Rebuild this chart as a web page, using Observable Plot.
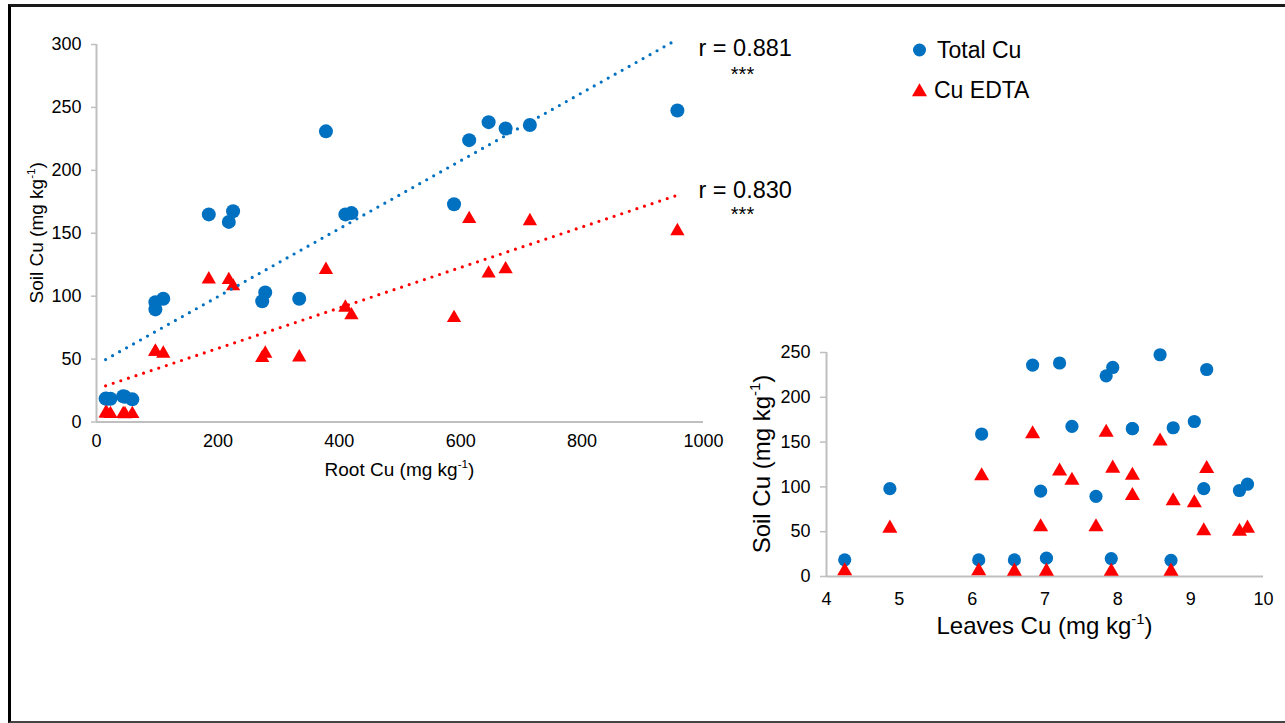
<!DOCTYPE html>
<html>
<head>
<meta charset="utf-8">
<script src="https://cdn.jsdelivr.net/npm/d3@7"></script>
<script src="https://cdn.jsdelivr.net/npm/@observablehq/plot@0.6"></script>
<style>
  html, body { margin: 0; padding: 0; background: #fff; }
  #fig { position: relative; width: 1285px; height: 723px; overflow: hidden;
         font-family: "Liberation Sans", Arial, sans-serif; }
  #frame { position: absolute; left: 8px; top: 4px; width: 1300px; height: 714px;
           border-left: 3px solid #000; border-top: 3px solid #1a1a1a; border-bottom: 2px solid #444; }
  #main, #inset, #legend { position: absolute; }
  #main { left: 0; top: 0; }
  #inset { left: 740px; top: 320px; }
  #legend { left: 900px; top: 30px; }
  #legend .row { display: flex; align-items: center; height: 40px; font-size: 23px; color: #000; }
  #legend svg { display: block; }
</style>
</head>
<body>
<div id="fig">
  <div id="frame"></div>
  <div id="main"></div>
  <div id="inset"></div>
  <div id="legend"></div>
</div>
<script>
// Copper in roots, leaves and soil for 24 sampled plants (mg kg-1)
const rootCu   = [15, 17, 23, 44, 47, 59, 97, 97, 110, 185, 218, 225, 273, 278, 334, 378, 410, 420, 589, 614, 646, 674, 714, 957];
const leavesCu = [4.25, 6.09, 6.58, 7.02, 7.91, 8.73, 6.94, 7.70, 4.87, 8.20, 6.13, 7.37, 9.67, 9.78, 9.18, 9.22, 8.20, 8.76, 9.05, 7.84, 7.20, 7.93, 6.83, 8.58];
const totalCu  = [18.6, 18.5, 18.5, 20.5, 20.0, 18.0, 95.2, 89.5, 98.0, 165.0, 159.0, 167.5, 96.0, 103.0, 98.0, 231.0, 165.0, 166.0, 173.0, 224.0, 238.3, 233.3, 236.0, 247.5];
const edtaCu   = [8.5, 8.5, 8.0, 8.0, 7.8, 8.0, 57.5, 57.5, 56.0, 115.0, 114.5, 109.5, 52.5, 56.0, 53.0, 122.5, 92.5, 86.5, 84.3, 163.0, 119.7, 123.0, 161.3, 153.3];

const seriesNames  = ["Total Cu", "Cu EDTA"];
const seriesColors = ["#0070C0", "#FF0000"];
const rLabels   = ["r = 0.881", "r = 0.830"];
const sigLabels = ["***", "***"];

const rootTicks   = [0, 200, 400, 600, 800, 1000];
const soilTicks   = [0, 50, 100, 150, 200, 250, 300];
const leavesTicks = [4, 5, 6, 7, 8, 9, 10];
const soilTicksInset = [0, 50, 100, 150, 200, 250];

const rootTitle   = ["Root Cu (mg kg", "-1", ")"];
const leavesTitle = ["Leaves Cu (mg kg", "-1", ")"];
const soilTitle   = ["Soil Cu (mg kg", "-1", ")"];

const samples = rootCu.map((r, i) => ({
  root: r, leaves: leavesCu[i], total: totalCu[i], edta: edtaCu[i]
}));

const FONT = '"Liberation Sans", Arial, sans-serif';
const AXIS_GREY = "#bfbfbf";
const [blue, red] = seriesColors;
const plain = d => String(d);

// axis title with a superscript unit exponent
function addTitle(svg, parts, x, y, rotate, size) {
  const t = d3.select(svg).append("text")
    .attr("transform", `translate(${x},${y}) rotate(${rotate})`)
    .attr("text-anchor", "middle")
    .attr("font-family", FONT)
    .attr("font-size", size)
    .attr("fill", "#000");
  t.append("tspan").text(parts[0]);
  t.append("tspan").attr("font-size", size * 0.62).attr("dy", -size * 0.4).text(parts[1]);
  t.append("tspan").attr("dy", size * 0.4).text(parts[2]);
}

// ---- Soil Cu vs Root Cu ----
const main = Plot.plot({
  width: 810, height: 490,
  marginLeft: 96, marginRight: 107, marginTop: 44, marginBottom: 68.5,
  style: { fontFamily: FONT, fontSize: "18px", color: "#000", background: "transparent", overflow: "visible" },
  x: { domain: [0, 1000], label: null },
  y: { domain: [0, 300], label: null },
  marks: [
    Plot.axisY({ ticks: soilTicks, tickFormat: plain, tickSize: 5, tickPadding: 10, stroke: AXIS_GREY, strokeWidth: 1.5, label: null }),
    Plot.axisX({ ticks: rootTicks, tickFormat: plain, tickSize: 0, tickPadding: 12, label: null }),
    Plot.ruleX([0], { stroke: AXIS_GREY, strokeWidth: 2 }),
    Plot.ruleY([0], { stroke: AXIS_GREY, strokeWidth: 2 }),
    Plot.dot(samples, { x: "root", y: "total", r: 7, fill: blue }),
    Plot.dot(samples, { x: "root", y: "edta", symbol: "triangle", r: 5.3, dy: 2, fill: red }),
    Plot.linearRegressionY(samples, { x: "root", y: "total", ci: 0, stroke: blue, strokeWidth: 3.2, strokeDasharray: "0 8", strokeLinecap: "round" }),
    Plot.linearRegressionY(samples, { x: "root", y: "edta", ci: 0, stroke: red, strokeWidth: 3.2, strokeDasharray: "0 8", strokeLinecap: "round" }),
    Plot.text([rLabels[0]], { text: d => d, frameAnchor: "top-right", textAnchor: "start", lineAnchor: "bottom", dx: -5, dy: 11, fontSize: 23.5, fill: "#000" }),
    Plot.text([sigLabels[0]], { text: d => d, frameAnchor: "top-right", textAnchor: "middle", lineAnchor: "bottom", dx: 39, dy: 36, fontSize: 20, fill: "#000" }),
    Plot.text([rLabels[1]], { text: d => d, frameAnchor: "top-right", textAnchor: "start", lineAnchor: "bottom", dx: -5, dy: 153, fontSize: 23.5, fill: "#000" }),
    Plot.text([sigLabels[1]], { text: d => d, frameAnchor: "top-right", textAnchor: "middle", lineAnchor: "bottom", dx: 39, dy: 176, fontSize: 20, fill: "#000" })
  ]
});
{
  const [x0, x1] = main.scale("x").range;
  const [yb, yt] = main.scale("y").range;
  addTitle(main, rootTitle, (x0 + x1) / 2, yb + 54.5, 0, 19);
  addTitle(main, soilTitle, 43, (yb + yt) / 2, -90, 19);
}
document.getElementById("main").appendChild(main);

// ---- Soil Cu vs Leaves Cu ----
const inset = Plot.plot({
  width: 540, height: 300,
  marginLeft: 86, marginRight: 17, marginTop: 32, marginBottom: 44,
  style: { fontFamily: FONT, fontSize: "18px", color: "#000", background: "transparent", overflow: "visible" },
  x: { domain: [4, 10], label: null },
  y: { domain: [0, 250], label: null },
  marks: [
    Plot.axisY({ ticks: soilTicksInset, tickFormat: plain, tickSize: 6, tickPadding: 10, stroke: AXIS_GREY, strokeWidth: 1.5, label: null }),
    Plot.axisX({ ticks: leavesTicks, tickFormat: plain, tickSize: 0, tickPadding: 16, label: null }),
    Plot.ruleX([4], { stroke: AXIS_GREY, strokeWidth: 2 }),
    Plot.ruleY([0], { stroke: AXIS_GREY, strokeWidth: 2 }),
    Plot.dot(samples, { x: "leaves", y: "total", r: 6.6, fill: blue }),
    Plot.dot(samples, { x: "leaves", y: "edta", symbol: "triangle", r: 5.6, dy: 2, fill: red })
  ]
});
{
  const [x0, x1] = inset.scale("x").range;
  const [yb, yt] = inset.scale("y").range;
  addTitle(inset, leavesTitle, (x0 + x1) / 2, yb + 58, 0, 24);
  addTitle(inset, soilTitle, 30, (yb + yt) / 2, -90, 24);
}
document.getElementById("inset").appendChild(inset);

// ---- legend ----
{
  const legend = d3.select("#legend");
  seriesNames.forEach((name, i) => {
    const row = legend.append("div").attr("class", "row");
    const s = row.append("svg").attr("width", 36).attr("height", 40);
    if (i === 0) {
      s.append("circle").attr("cx", 19.5).attr("cy", 20).attr("r", 6.5).attr("fill", seriesColors[i]);
    } else {
      s.append("path")
        .attr("d", d3.symbol(d3.symbolTriangle, Math.PI * 5.6 * 5.6)())
        .attr("transform", "translate(19.5,22)")
        .attr("fill", seriesColors[i]);
    }
    row.append("span").text(name).style("margin-left", i === 0 ? "1px" : "-2px");
  });
}
</script>
</body>
</html>
